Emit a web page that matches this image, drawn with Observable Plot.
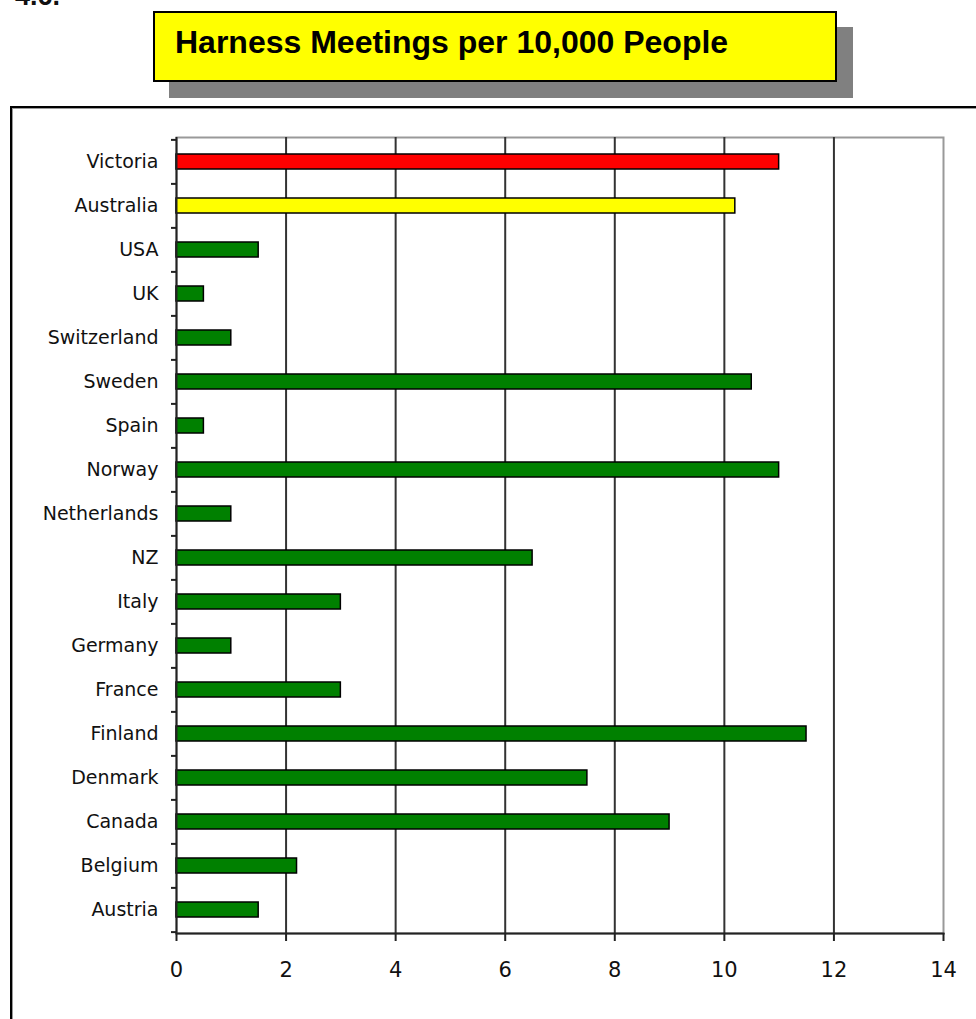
<!DOCTYPE html>
<html>
<head>
<meta charset="utf-8">
<script src="https://cdn.jsdelivr.net/npm/d3@7"></script>
<script src="https://cdn.jsdelivr.net/npm/@observablehq/plot@0.6"></script>
<style>
  html, body { margin: 0; padding: 0; width: 976px; height: 1019px; overflow: hidden; background: #fff; }
  #num { position: absolute; left: 15px; top: -17px; font: bold 27px/27px "Liberation Sans", Arial, sans-serif; color: #111; white-space: nowrap; }
  #titlebox { position: absolute; left: 153px; top: 11px; width: 684px; height: 71px; box-sizing: border-box;
    background: #ffff00; border: 2px solid #000; box-shadow: 16px 16px 0 #808080; }
  #title { position: absolute; left: 175px; top: 26px; font: bold 32px/32px "Liberation Sans", Arial, sans-serif; color: #000; white-space: nowrap; }
  #frame { position: absolute; left: 10px; top: 106px; width: 1100px; height: 1100px; box-sizing: border-box;
    border: 2px solid #000; box-shadow: inset 1px 1px 0 #999; }
  #chart { position: absolute; left: 0; top: 100px; }
</style>
</head>
<body>
<div id="num">4.6.</div>
<div id="titlebox"></div>
<div id="title">Harness Meetings per 10,000 People</div>
<div id="frame"></div>
<div id="chart"></div>
<script>
const countries = ["Victoria","Australia","USA","UK","Switzerland","Sweden","Spain","Norway","Netherlands","NZ","Italy","Germany","France","Finland","Denmark","Canada","Belgium","Austria"];
const meetings = [11.0,10.2,1.5,0.5,1.0,10.5,0.5,11.0,1.0,6.5,3.0,1.0,3.0,11.5,7.5,9.0,2.2,1.5];
const xTicks = [0,2,4,6,8,10,12,14];

const data = countries.map((c, i) => ({country: c, value: meetings[i]}));
const barColor = c => c === "Victoria" ? "#ff0000" : c === "Australia" ? "#ffff00" : "#008000";

const W = 976, H = 919, mt = 37, mb = 86, ml = 176, mr = 33;
const step = (H - mt - mb) / countries.length;

const chart = Plot.plot({
  width: W, height: H,
  marginTop: mt, marginBottom: mb, marginLeft: ml, marginRight: mr,
  style: {fontFamily: "'DejaVu Sans', sans-serif", fontSize: "19px", color: "#111", background: "transparent"},
  x: {domain: [0, 14], axis: null},
  y: {domain: countries, paddingInner: 0.66, paddingOuter: 0.33, axis: null},
  color: {type: "identity"},
  marks: [
    Plot.frame({stroke: "#999", strokeWidth: 2}),
    Plot.ruleX(xTicks.filter(t => t > 0 && t < 14), {stroke: "#333", strokeWidth: 2}),
    Plot.barX(data, {x: "value", y: "country", fill: d => barColor(d.country), stroke: "#000", strokeWidth: 1.5}),
    Plot.ruleX([0], {stroke: "#222", strokeWidth: 2}),
    Plot.frame({anchor: "bottom", stroke: "#222", strokeWidth: 2}),
    Plot.axisY({tickSize: 0, tickPadding: 18, fontSize: 19, fill: "#111", label: null}),
    Plot.axisY({tickSize: 5, tickFormat: () => "", dy: -step / 2, stroke: "#222", strokeWidth: 2, label: null}),
    Plot.axisY([countries[countries.length - 1]], {tickSize: 5, tickFormat: () => "", dy: step / 2, stroke: "#222", strokeWidth: 2, label: null}),
    Plot.axisX({ticks: xTicks, tickSize: 8, tickPadding: 21, fontSize: 21, label: null, stroke: "#222", strokeWidth: 2, fill: "#111", tickFormat: d3.format("d")})
  ]
});
document.getElementById("chart").appendChild(chart);
</script>
</body>
</html>
